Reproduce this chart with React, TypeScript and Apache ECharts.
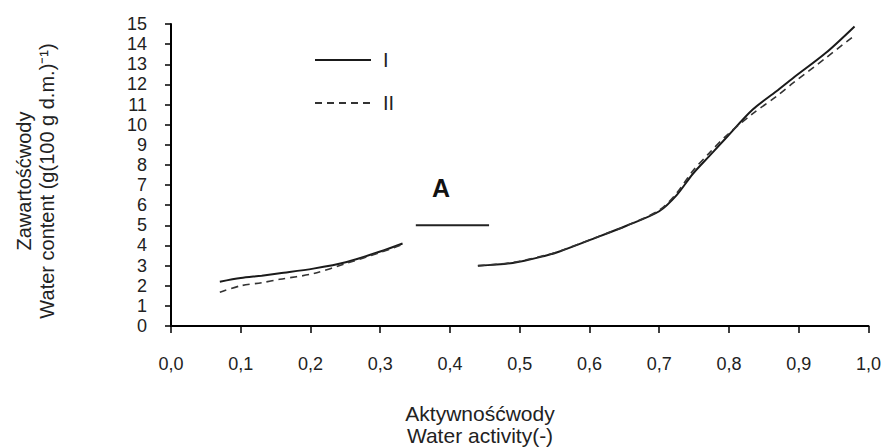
import React, { useEffect, useRef } from "react";
import * as echarts from "echarts";

// Water activity (x) and water content (y), two curves, two segments each
const awSeg1 = [0.07, 0.1, 0.13, 0.156, 0.204, 0.252, 0.3, 0.332];
const wcI1 = [2.2, 2.38, 2.5, 2.62, 2.85, 3.18, 3.7, 4.1];
const wcII1 = [1.68, 2.0, 2.15, 2.32, 2.6, 3.12, 3.65, 4.05];

const awSeg2 = [0.44, 0.49, 0.538, 0.557, 0.605, 0.653, 0.7, 0.725, 0.748, 0.772, 0.796, 0.834, 0.868, 0.892, 0.939, 0.98];
const wcI2 = [2.99, 3.13, 3.5, 3.7, 4.33, 4.98, 5.7, 6.5, 7.55, 8.45, 9.35, 10.75, 11.66, 12.32, 13.57, 14.88];
const wcII2 = [2.99, 3.16, 3.52, 3.71, 4.34, 4.98, 5.75, 6.6, 7.7, 8.6, 9.45, 10.55, 11.4, 12.07, 13.32, 14.43];

const awA = [0.351, 0.456];
const wcA = [5, 5];

const seriesNames = ["I", "II"];
const xTitle = "Aktywnośćwody\nWater activity(-)";
const yTitle = "Zawartośćwody\nWater content (g(100 g d.m.)⁻¹)";
const markText = "A";

const FONT = "'Liberation Sans', Arial, sans-serif";

function pairs(xs: number[], ys: number[]) {
  return xs.map((x, i) => [x, ys[i]]);
}

export default function App() {
  const ref = useRef<HTMLDivElement>(null);
  useEffect(() => {
    document.body.style.margin = "0";
    if (!ref.current) return;
    const chart = echarts.init(ref.current, null, { renderer: "svg" });
    const solid = { color: "#1a1a1a", width: 2, type: "solid" as const };
    const dashed = { color: "#333", width: 1.6, type: [7, 5] as any };
    chart.setOption({
      animation: false,
      backgroundColor: "#fff",
      textStyle: { fontFamily: FONT },
      grid: { left: 171, right: 15, top: 24, bottom: 122 },
      legend: {
        data: seriesNames,
        orient: "vertical",
        left: 309,
        top: 45,
        itemWidth: 56,
        itemHeight: 14,
        itemGap: 23,
        itemStyle: { opacity: 0 },
        textStyle: { fontSize: 20, color: "#222", fontFamily: FONT, padding: [0, 0, 0, 7] },
      },
      xAxis: {
        type: "value",
        min: 0,
        max: 1,
        interval: 0.1,
        splitLine: { show: false },
        axisLine: { lineStyle: { color: "#000", width: 2 } },
        axisTick: { length: 7, lineStyle: { color: "#000", width: 1.5 } },
        axisLabel: {
          margin: 29,
          fontSize: 18,
          color: "#222",
          fontFamily: FONT,
          formatter: (v: number) => v.toFixed(1).replace(".", ","),
        },
      },
      yAxis: {
        type: "value",
        min: 0,
        max: 15,
        interval: 1,
        splitLine: { show: false },
        axisLine: { show: true, lineStyle: { color: "#000", width: 2 } },
        axisTick: { show: true, length: 6, lineStyle: { color: "#000", width: 1.5 } },
        axisLabel: { margin: 24, fontSize: 18, color: "#222", fontFamily: FONT },
      },
      series: [
        { name: "I", type: "line", data: pairs(awSeg1, wcI1), symbol: "none", smooth: 0.3, lineStyle: solid, itemStyle: { color: "#1a1a1a" } },
        { name: "I", type: "line", data: pairs(awSeg2, wcI2), symbol: "none", smooth: 0.3, lineStyle: solid, itemStyle: { color: "#1a1a1a" } },
        { name: "II", type: "line", data: pairs(awSeg1, wcII1), symbol: "none", smooth: 0.3, lineStyle: dashed, itemStyle: { color: "#333" } },
        { name: "II", type: "line", data: pairs(awSeg2, wcII2), symbol: "none", smooth: 0.3, lineStyle: dashed, itemStyle: { color: "#333" } },
        { name: "A", type: "line", data: pairs(awA, wcA), symbol: "none", lineStyle: { color: "#222", width: 2 } },
      ],
      graphic: [
        {
          type: "text",
          x: 441,
          y: 188,
          style: { text: markText, fontSize: 25, fontWeight: "bold", fill: "#111", fontFamily: FONT, align: "center", verticalAlign: "middle" },
        },
        {
          type: "text",
          x: 480,
          y: 424,
          style: { text: xTitle, fontSize: 21, lineHeight: 22, fill: "#222", fontFamily: FONT, align: "center", verticalAlign: "middle" },
        },
        {
          type: "text",
          x: 35,
          y: 181,
          rotation: Math.PI / 2,
          style: { text: yTitle, fontSize: 20, lineHeight: 23, fill: "#222", fontFamily: FONT, align: "center", verticalAlign: "middle" },
        },
      ],
    });
    return () => chart.dispose();
  }, []);
  return <div ref={ref} style={{ width: 884, height: 448 }} />;
}
